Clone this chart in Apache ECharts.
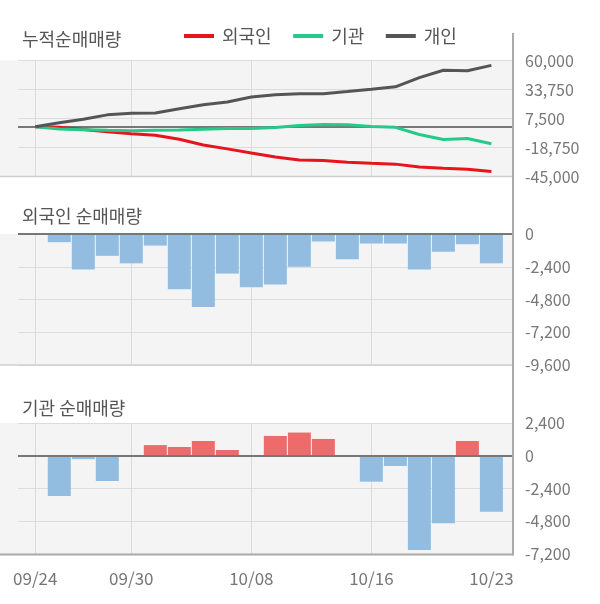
<!DOCTYPE html>
<html>
<head>
<meta charset="utf-8">
<script src="https://cdn.jsdelivr.net/npm/echarts@6/dist/echarts.min.js"></script>
<style>html,body{margin:0;padding:0;background:#fff}#c{width:600px;height:604px}</style>
</head>
<body>
<div id="c"></div>
<script>
const dates = ['09/24','09/25','09/26','09/27','09/30','10/01','10/02','10/04','10/07','10/08','10/10','10/11','10/14','10/15','10/16','10/17','10/18','10/21','10/22','10/23'];
const foreignCum = [0, -400, -2500, -4500, -6300, -7600, -11300, -16500, -20000, -23800, -27400, -30000, -30500, -32000, -33000, -33800, -36400, -37600, -38400, -40400];
const instCum = [0, -2000, -2600, -3200, -3700, -3200, -3000, -2300, -1600, -1600, -700, 1100, 2000, 1800, 200, -500, -7000, -11500, -10600, -15300];
const indivCum = [0, 3700, 6800, 10800, 12300, 12400, 16300, 20000, 22400, 27000, 28900, 29800, 29900, 31900, 34000, 36200, 44500, 51200, 50800, 55600];
const foreignNet = [null, -600, -2600, -1600, -2150, -850, -4050, -5350, -2900, -3900, -3700, -2400, -550, -1850, -700, -700, -2600, -1300, -750, -2150];
const instNet = [null, -2950, -250, -1850, 0, 780, 640, 1080, 420, 0, 1450, 1700, 1230, 0, -1900, -750, -6900, -4950, 1080, -4100];
const topTicks = [-45000, -18750, 7500, 33750, 60000];
const labelIdx = [0, 4, 9, 14, 19];
const gridIdx = [0, 4, 9, 14];
const seriesNames = ['외국인', '기관', '개인'];
const titles = ['누적순매매량', '외국인 순매매량', '기관 순매매량'];

const FONT = '"Noto Sans CJK KR", "Noto Sans", sans-serif';
const RED = '#e8141c', GREEN = '#27c98b', DARK = '#555555';
const BAR_BLUE = '#92bde0', BAR_RED = '#ee6b6b';
const fmt = v => Number(v).toLocaleString('en-US');

const grids = [
  {left: 18, right: 87, top: 60.5, height: 116},
  {left: 18, right: 87, top: 234, height: 131},
  {left: 18, right: 87, top: 423, height: 131}
].map(g => Object.assign(g, {show: true, backgroundColor: '#f4f4f4', borderWidth: 0}));

const xAxes = [0, 1, 2].map(k => ({
  type: 'value', gridIndex: k, min: -0.72, max: 19.9,
  axisLine: {show: false},
  axisTick: {show: false, customValues: gridIdx},
  splitLine: {show: true, lineStyle: {color: '#dcdcdc', width: 1}},
  axisLabel: {show: k === 2, customValues: labelIdx, formatter: v => dates[v] || '',
    fontSize: 17, color: '#777', fontFamily: FONT, margin: 16}
}));

const yCommon = {
  type: 'value', position: 'right',
  axisLine: {show: false}, axisTick: {show: false},
  splitLine: {show: true, lineStyle: {color: '#dcdcdc', width: 1}},
  axisLabel: {fontSize: 16, color: '#777', fontFamily: FONT, margin: 12, formatter: fmt}
};
const yAxes = [
  Object.assign({}, yCommon, {gridIndex: 0, min: -45000, max: 60000,
    axisTick: {show: false, customValues: topTicks},
    axisLabel: Object.assign({}, yCommon.axisLabel, {customValues: topTicks})}),
  Object.assign({}, yCommon, {gridIndex: 1, min: -9600, max: 0, interval: 2400}),
  Object.assign({}, yCommon, {gridIndex: 2, min: -7200, max: 2400, interval: 2400})
];

const zeroLine = {
  silent: true, symbol: 'none', label: {show: false},
  lineStyle: {color: '#777', width: 2, type: 'solid'},
  data: [{yAxis: 0}]
};

const lineSeries = [foreignCum, instCum, indivCum].map((arr, k) => ({
  name: seriesNames[k], type: 'line', xAxisIndex: 0, yAxisIndex: 0,
  data: arr.map((v, i) => [i, v]),
  showSymbol: false, symbol: 'none',
  lineStyle: {width: 3, color: [RED, GREEN, DARK][k]},
  itemStyle: {color: [RED, GREEN, DARK][k]},
  z: 3 + k
}));
lineSeries[0].markLine = Object.assign({}, zeroLine, {z: 2});

const barColor = p => (p.value[1] >= 0 ? BAR_RED : BAR_BLUE);
const barSeries = [
  {type: 'bar', xAxisIndex: 1, yAxisIndex: 1, barWidth: 23,
   data: foreignNet.map((v, i) => [i, v]),
   itemStyle: {color: barColor}, markLine: zeroLine},
  {type: 'bar', xAxisIndex: 2, yAxisIndex: 2, barWidth: 23,
   data: instNet.map((v, i) => [i, v]),
   itemStyle: {color: barColor}, markLine: zeroLine}
];

const option = {
  animation: false,
  backgroundColor: '#fff',
  textStyle: {fontFamily: FONT},
  title: titles.map((t, k) => ({
    text: t, left: 22, top: [30, 207, 399][k], padding: 0,
    textStyle: {fontSize: 18, fontWeight: 'normal', color: '#555', fontFamily: FONT}
  })),
  legend: {
    data: seriesNames, left: 184, top: 27, padding: 0, icon: 'rect',
    itemWidth: 30, itemHeight: 4, itemGap: 21.5,
    textStyle: {fontSize: 18, color: '#555', fontFamily: FONT, padding: [0, 0, 0, 3]}
  },
  grid: grids,
  xAxis: xAxes,
  yAxis: yAxes,
  series: lineSeries.concat(barSeries),
  graphic: [
    {type: 'rect', z: -1, shape: {x: 0, y: 60.5, width: 18, height: 116}, style: {fill: '#f4f4f4'}},
    {type: 'rect', z: -1, shape: {x: 0, y: 234, width: 18, height: 131}, style: {fill: '#f4f4f4'}},
    {type: 'rect', z: -1, shape: {x: 0, y: 423, width: 18, height: 131}, style: {fill: '#f4f4f4'}},
    {type: 'line', z: 100, shape: {x1: 0, y1: 176.5, x2: 513, y2: 176.5}, style: {stroke: '#cfcfcf', lineWidth: 1.5}},
    {type: 'line', z: 100, shape: {x1: 0, y1: 365, x2: 513, y2: 365}, style: {stroke: '#cfcfcf', lineWidth: 1.5}},
    {type: 'line', z: 100, shape: {x1: 0, y1: 554.5, x2: 513, y2: 554.5}, style: {stroke: '#aaaaaa', lineWidth: 2}},
    {type: 'line', z: 100, shape: {x1: 513, y1: 33, x2: 513, y2: 555.5}, style: {stroke: '#aaaaaa', lineWidth: 2}}
  ]
};

const chart = echarts.init(document.getElementById('c'), null, {renderer: 'canvas'});
chart.setOption(option);
</script>
</body>
</html>
